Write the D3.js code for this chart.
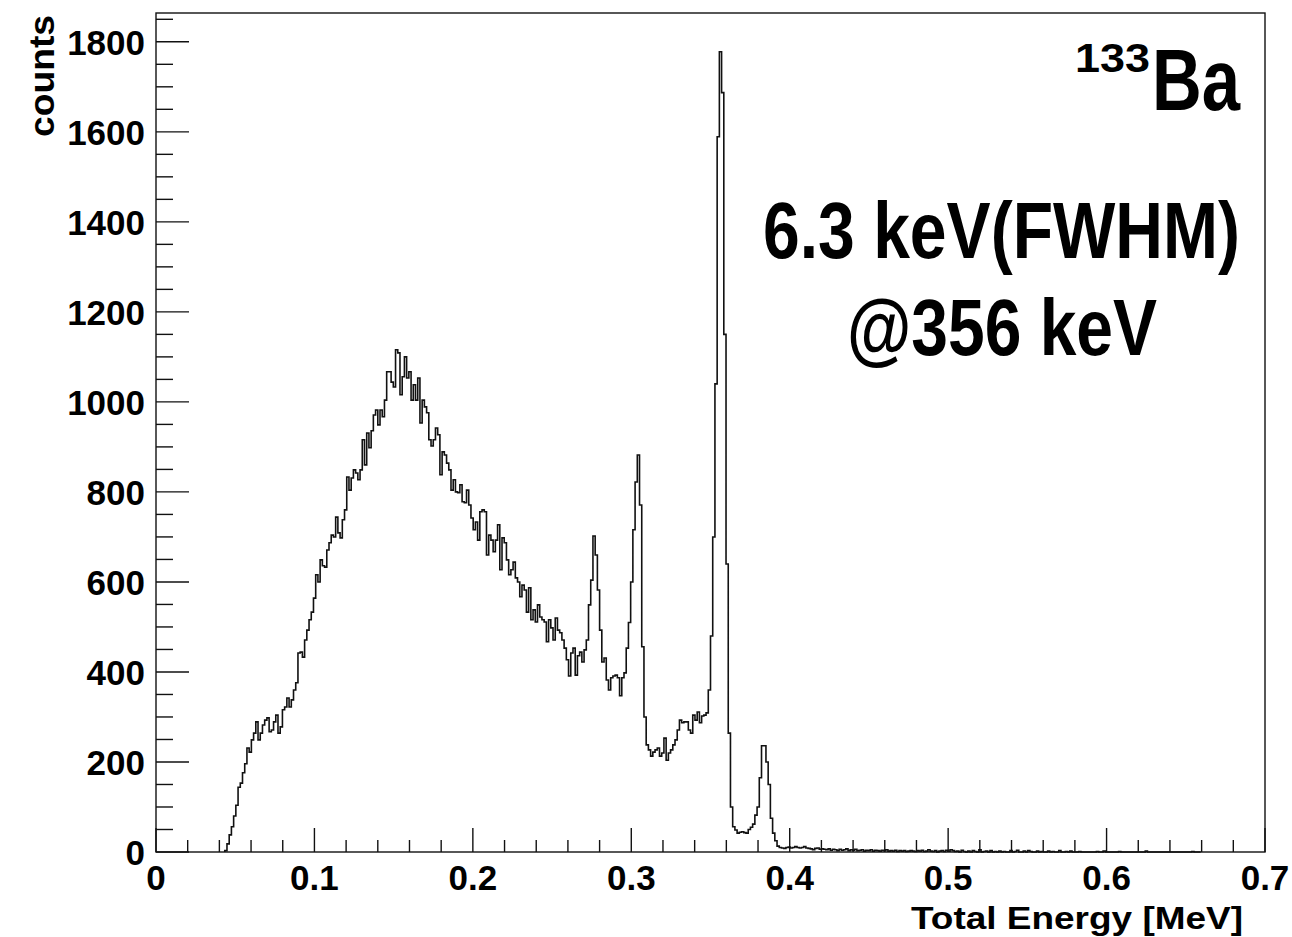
<!DOCTYPE html>
<html>
<head>
<meta charset="utf-8">
<script src="https://cdn.jsdelivr.net/npm/d3@7"></script>
<style>
	html, body { margin: 0; padding: 0; background: #fff; }
	svg { display: block; }
	.tick-label { font-family: 'Liberation Sans', Arial, Helvetica, sans-serif; font-weight: bold; }
	.big { font-family: 'Liberation Sans', Arial, sans-serif; font-weight: bold; }
</style>
</head>
<body>
<div class="vis"></div>
<script>
'use strict';

// histogram binning (MeV)
var binWidth = 0.0014;
var firstBinEnergy = 0.0434;

// counts per bin, starting at firstBinEnergy
var counts = [
	3, 18, 38, 56, 80, 104, 144, 153, 176, 196,
	231, 222, 249, 264, 289, 249, 264, 282, 293, 298,
	267, 271, 289, 304, 264, 278, 316, 322, 342, 322,
	338, 360, 376, 442, 444, 433, 471, 493, 516, 533,
	564, 616, 600, 649, 636, 633, 671, 687, 704, 700,
	744, 709, 698, 738, 760, 833, 804, 831, 849, 842,
	827, 849, 916, 860, 931, 898, 936, 971, 982, 949,
	982, 967, 1004, 1067, 1067, 1044, 1033, 1116, 1109, 1016,
	1056, 1100, 1053, 1067, 1004, 1038, 1004, 1053, 953, 1004,
	989, 976, 916, 902, 916, 942, 927, 838, 889, 882,
	864, 849, 804, 827, 800, 798, 816, 778, 776, 804,
	771, 742, 716, 733, 693, 756, 760, 756, 660, 704,
	693, 667, 693, 727, 627, 698, 687, 649, 616, 627,
	644, 609, 600, 567, 593, 582, 533, 587, 516, 538,
	511, 549, 522, 516, 511, 467, 516, 498, 471, 520,
	493, 487, 471, 453, 427, 391, 442, 453, 393, 436,
	444, 422, 449, 471, 549, 604, 702, 660, 582, 493,
	422, 431, 382, 360, 387, 391, 393, 387, 347, 387,
	398, 453, 510, 600, 716, 822, 882, 771, 456, 300,
	238, 227, 213, 222, 227, 231, 213, 220, 253, 204,
	220, 227, 238, 249, 271, 293, 287, 289, 289, 271,
	264, 304, 293, 311, 287, 302, 304, 309, 360, 480,
	700, 1040, 1589, 1778, 1687, 1150, 640, 264, 100, 56,
	49, 42, 44, 45, 43, 42, 50, 55, 62, 82,
	100, 165, 236, 236, 200, 150, 75, 42, 25, 13,
	10, 9, 8, 10, 11, 9, 10, 12, 10, 9,
	10, 12, 9, 8, 7, 5, 8, 9, 6, 7,
	6, 5, 7, 4, 6, 5, 3, 6, 4, 5, 7, 3, 5, 4, 6, 3, 4, 5, 2, 4,
	3, 5, 2, 4, 3, 2, 4, 3, 5, 2, 3, 2, 4, 1, 3, 2, 3, 1, 2, 3,
	2, 1, 3, 2, 4, 1, 2, 5, 2, 1, 3, 0, 2, 3, 1, 4, 2, 5, 3, 1,
	2, 0, 4, 1, 0, 2, 0, 3, 1, 0, 5, 0, 1, 2, 0, 3, 0, 1, 0, 2,
	0, 1, 0, 0, 3, 0, 1, 4, 0, 0, 2, 0, 3, 1, 0, 0, 2, 0, 1, 0,
	0, 2, 0, 1, 0, 0, 3, 0, 0, 1, 0, 2, 0, 0, 0, 1, 0, 0, 0, 0,
	0, 0, 0, 1, 0, 0, 2, 0, 0, 0, 0, 0, 0, 1, 0, 0, 0, 0, 0, 0,
	0, 0, 0, 0, 0, 2, 0, 0, 0, 0, 0, 0, 0, 0, 0, 0, 0, 0, 0, 0,
	0, 0, 0, 0, 0, 0, 1, 0, 0, 0
];

// axes
var xDomain = [0, 0.7];
var yDomain = [0, 1864];
var xMajorTicks = [0, 0.1, 0.2, 0.3, 0.4, 0.5, 0.6, 0.7];
var xTickLabels = ['0', '0.1', '0.2', '0.3', '0.4', '0.5', '0.6', '0.7'];
var yMajorTicks = [0, 200, 400, 600, 800, 1000, 1200, 1400, 1600, 1800];
var yTickLabels = ['0', '200', '400', '600', '800', '1000', '1200', '1400', '1600', '1800'];
var xMinorStep = 0.02;
var yMinorStep = 50;

var xTitle = 'Total Energy [MeV]';
var yTitle = 'counts';

(function () {
	var width = 1292;
	var height = 937;
	var left = 156, right = 1265, top = 13, bottom = 852;

	var x = d3.scaleLinear().domain(xDomain).range([left, right]);
	var y = d3.scaleLinear().domain(yDomain).range([bottom, top]);

	var svg = d3.select('.vis')
		.append('svg')
			.attr('width', width)
			.attr('height', height);

	// histogram outline as steps
	var pts = [[firstBinEnergy, 0]];
	counts.forEach(function (c, i) {
		var e0 = firstBinEnergy + i * binWidth;
		pts.push([e0, c]);
		pts.push([e0 + binWidth, c]);
	});
	pts.push([firstBinEnergy + counts.length * binWidth, 0]);

	var line = d3.line()
		.x(function (d) { return x(d[0]); })
		.y(function (d) { return y(d[1]); });

	svg.append('path')
		.datum(pts)
		.attr('d', line)
		.attr('fill', 'none')
		.attr('stroke', '#111')
		.attr('stroke-width', 1.6)
		.attr('stroke-linejoin', 'miter');

	// frame
	svg.append('rect')
		.attr('x', left)
		.attr('y', top)
		.attr('width', right - left)
		.attr('height', bottom - top)
		.attr('fill', 'none')
		.attr('stroke', '#111')
		.attr('stroke-width', 1.4);

	// x ticks
	var xMinor = d3.range(0, xDomain[1] + 1e-9, xMinorStep);
	svg.selectAll('.xminor')
		.data(xMinor)
		.enter().append('line')
			.attr('x1', function (d) { return x(d); })
			.attr('x2', function (d) { return x(d); })
			.attr('y1', bottom)
			.attr('y2', function (d) {
				var major = Math.abs(d * 10 - Math.round(d * 10)) < 1e-6;
				return bottom - (major ? 24 : 12);
			})
			.attr('stroke', '#111')
			.attr('stroke-width', 1.4);

	svg.selectAll('.xlabel')
		.data(xMajorTicks)
		.enter().append('text')
			.attr('class', 'tick-label')
			.attr('x', function (d) { return x(d); })
			.attr('y', 890)
			.attr('text-anchor', 'middle')
			.attr('font-size', 35)
			.text(function (d, i) { return xTickLabels[i]; });

	// y ticks
	var yMinor = d3.range(0, yDomain[1], yMinorStep);
	svg.selectAll('.yminor')
		.data(yMinor)
		.enter().append('line')
			.attr('x1', left)
			.attr('x2', function (d) { return left + (d % 200 === 0 ? 33 : 17); })
			.attr('y1', function (d) { return y(d); })
			.attr('y2', function (d) { return y(d); })
			.attr('stroke', '#111')
			.attr('stroke-width', 1.4);

	svg.selectAll('.ylabel')
		.data(yMajorTicks)
		.enter().append('text')
			.attr('class', 'tick-label')
			.attr('x', 145)
			.attr('y', function (d) { return y(d) + 13; })
			.attr('text-anchor', 'end')
			.attr('font-size', 35)
			.text(function (d, i) { return yTickLabels[i]; });

	// axis titles
	svg.append('text')
		.attr('class', 'tick-label')
		.attr('x', 911)
		.attr('y', 929)
		.attr('font-size', 32)
		.attr('textLength', 332)
		.attr('lengthAdjust', 'spacingAndGlyphs')
		.text(xTitle);

	svg.append('text')
		.attr('class', 'tick-label')
		.attr('transform', 'translate(54,137) rotate(-90)')
		.attr('font-size', 35)
		.attr('textLength', 122)
		.attr('lengthAdjust', 'spacingAndGlyphs')
		.text(yTitle);

	// annotations: condensed look = smaller font stretched vertically
	function bigText(str, px, py, size, len, sy) {
		svg.append('text')
			.attr('class', 'big')
			.attr('transform', 'translate(' + px + ',' + py + ') scale(1,' + sy + ')')
			.attr('font-size', size)
			.attr('textLength', len)
			.attr('lengthAdjust', 'spacingAndGlyphs')
			.text(str);
	}

	bigText('133', 1075, 72, 42, 75, 0.97);
	bigText('Ba', 1152, 110, 69, 88, 1.25);
	bigText('6.3 keV(FWHM)', 763, 258, 66, 477, 1.21);
	bigText('@356 keV', 847, 355, 66, 310, 1.21);
})();
</script>
</body>
</html>
